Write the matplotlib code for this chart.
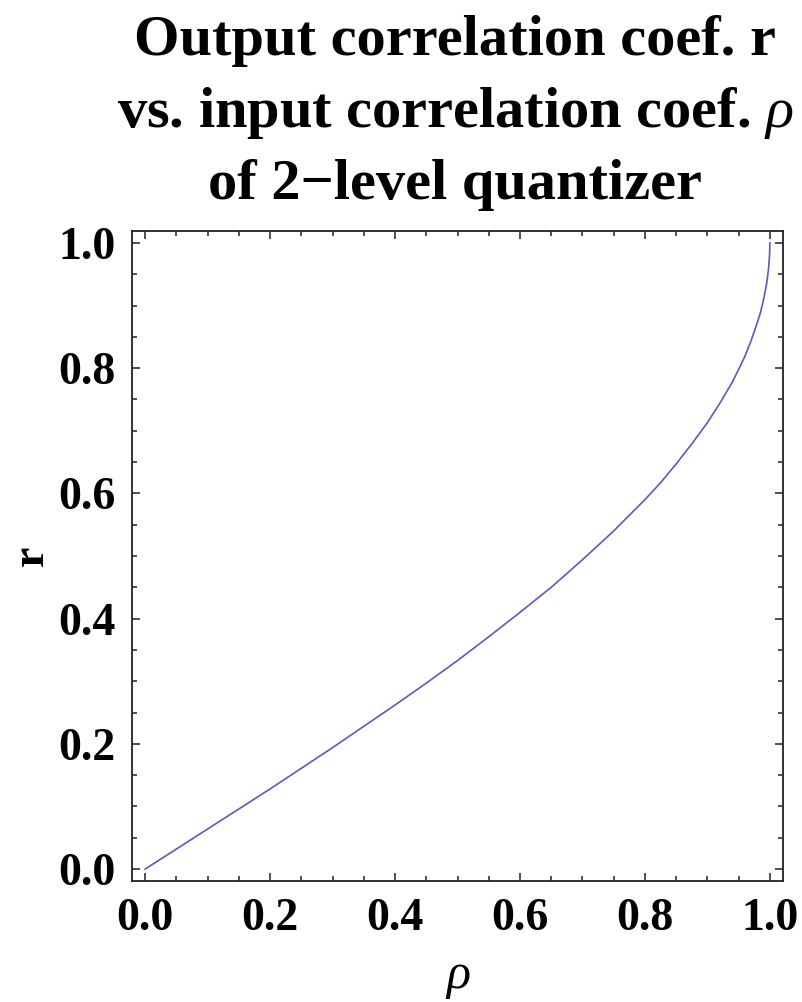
import matplotlib
matplotlib.use("Agg")
import matplotlib.pyplot as plt
from matplotlib.ticker import MultipleLocator

# values
rho = [0.0, 0.05, 0.1, 0.15, 0.2, 0.25, 0.3, 0.35, 0.4, 0.45, 0.5, 0.55, 0.6,
       0.65, 0.7, 0.75, 0.8, 0.825, 0.85, 0.875, 0.9, 0.92, 0.94, 0.95, 0.96,
       0.97, 0.98, 0.985, 0.99, 0.995, 0.998, 0.9995, 1.0]
r = [0.0, 0.032, 0.064, 0.096, 0.128, 0.161, 0.194, 0.228, 0.262, 0.297,
     0.333, 0.371, 0.410, 0.450, 0.494, 0.540, 0.590, 0.617, 0.647, 0.679,
     0.713, 0.744, 0.778, 0.798, 0.819, 0.844, 0.873, 0.889, 0.910, 0.936,
     0.960, 0.980, 1.0]

title_lines = ["Output correlation coef. r",
               r"vs. input correlation coef. $\rho$",
               "of 2\u2212level quantizer"]

plt.rcParams["font.family"] = ["Liberation Serif", "DejaVu Serif"]
plt.rcParams["mathtext.fontset"] = "custom"
plt.rcParams["mathtext.it"] = "Liberation Serif:italic"
plt.rcParams["mathtext.rm"] = "Liberation Serif:bold"

fig = plt.figure(figsize=(8.02, 10.02), dpi=100)
ax = fig.add_axes([132 / 802, 1 - 881 / 1002, 651 / 802, 650 / 1002])

ax.plot(rho, r, color="#5a5abf", lw=1.2)

ax.set_xlim(-0.021, 1.021)
ax.set_ylim(-0.019, 1.019)
ax.xaxis.set_major_locator(MultipleLocator(0.2))
ax.xaxis.set_minor_locator(MultipleLocator(0.05))
ax.yaxis.set_major_locator(MultipleLocator(0.2))
ax.yaxis.set_minor_locator(MultipleLocator(0.05))
ax.xaxis.set_major_formatter(lambda v, p: f"{v:.1f}")
ax.yaxis.set_major_formatter(lambda v, p: f"{v:.1f}")

ax.tick_params(which="both", direction="in", top=True, right=True,
               width=1.1, color="#222222", labelsize=33)
ax.tick_params(which="major", length=6, pad=12)
ax.tick_params(which="minor", length=3.5)
for lbl in ax.get_xticklabels() + ax.get_yticklabels():
    lbl.set_fontweight("bold")
for s in ax.spines.values():
    s.set_linewidth(1.3)
    s.set_color("#222222")

ax.set_xlabel(r"$\rho$", fontsize=36, labelpad=11)
ax.set_ylabel("r", fontsize=33, fontweight="bold", labelpad=4)

for i, line in enumerate(title_lines):
    fig.text(455 / 802, 1 - (55 + 72 * i) / 1002, line, ha="center",
             va="baseline", fontsize=42, fontweight="bold")

fig.savefig("out.png", dpi=100)
